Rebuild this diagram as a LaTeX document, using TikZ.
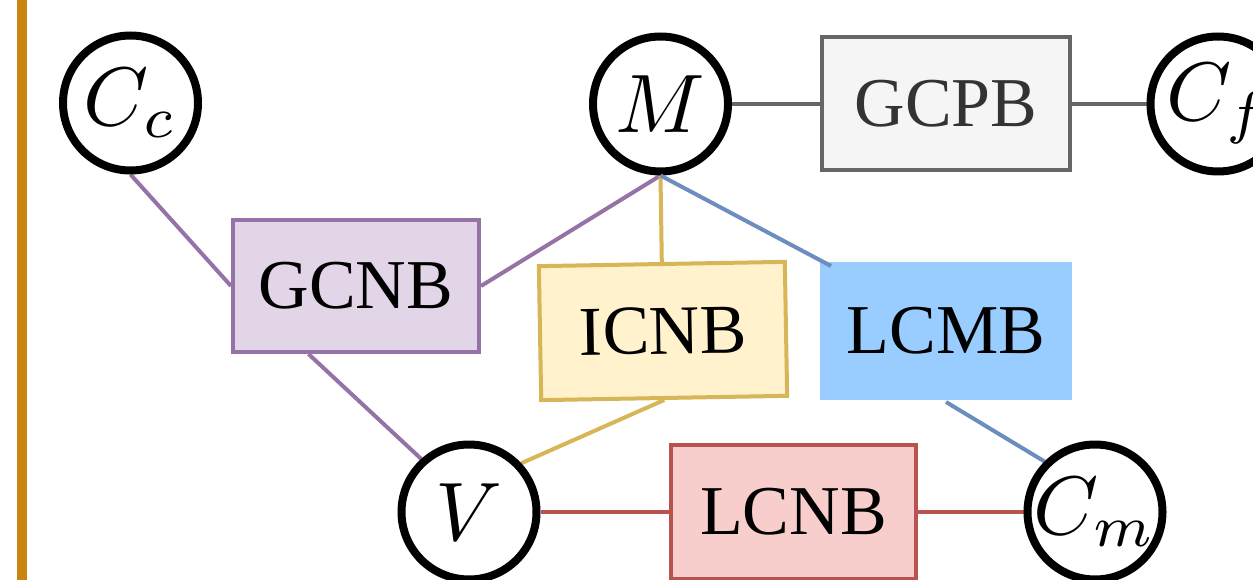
\documentclass[tikz,border=0pt]{standalone}
\usepackage{graphicx}
\usepackage{fontspec}
\setmainfont{Liberation Serif}
\usetikzlibrary{calc,backgrounds}
\definecolor{barcol}{RGB}{200,134,16}
\definecolor{purpline}{HTML}{9673A6}
\definecolor{purpfill}{HTML}{E1D5E7}
\definecolor{yelline}{HTML}{D6B656}
\definecolor{yelfill}{HTML}{FFF2CC}
\definecolor{blueline}{HTML}{6C8EBF}
\definecolor{bluefill}{HTML}{99CCFF}
\definecolor{redline}{HTML}{B85450}
\definecolor{redfill}{HTML}{F8CECC}
\definecolor{grayline}{HTML}{666666}
\definecolor{grayfill}{HTML}{F5F5F5}
\definecolor{graytext}{HTML}{333333}
\newcommand{\bigmath}[1]{\makebox[0pt]{\scalebox{8.3}{\normalsize$#1$}}}
\begin{document}
\begin{tikzpicture}[x=1pt,y=-1pt,
  circ/.style={circle,draw=black,line width=8pt,fill=white,minimum size=135pt,inner sep=0pt},
  blk/.style={rectangle,line width=4pt,inner sep=0pt,font=\fontsize{70}{80}\selectfont},
  ln/.style={line width=4pt}]
\useasboundingbox (0,0) rectangle (1253,580);
\clip (0,0) rectangle (1253,580);
\fill[barcol] (17,0) rectangle (27,580);
% circles
\node[circ] (Cc) at (130.5,103) {\bigmath{C_c}};
\node[circ] (M) at (660.5,104) {\bigmath{M}};
\node[circ] (Cf) at (1218,104) {\bigmath{C_f}};
\node[circ] (V) at (469,512) {\bigmath{V}};
\node[circ] (Cm) at (1095,512) {\bigmath{C_m}};
% blocks
\node[blk,draw=grayline,fill=grayfill,text=graytext,minimum width=248pt,minimum height=133pt] (GCPB) at (946,104) {GCPB};
\node[blk,draw=purpline,fill=purpfill,minimum width=246pt,minimum height=132pt] (GCNB) at (356,286) {GCNB};
\node[blk,draw=yelline,fill=yelfill,minimum width=246pt,minimum height=134pt,rotate=1] (ICNB) at (663,331) {ICNB};
\node[blk,fill=bluefill,minimum width=252pt,minimum height=138pt] (LCMB) at (946,331) {LCMB};
\node[blk,draw=redline,fill=redfill,minimum width=245pt,minimum height=134pt] (LCNB) at (793.5,512) {LCNB};
% connectors
\begin{pgfonlayer}{background}
\draw[ln,purpline] (Cc.south) -- (GCNB.west);
\draw[ln,purpline] ($(GCNB.south west)!0.31!(GCNB.south east)$) -- (V.132);
\draw[ln,purpline] (GCNB.east) -- (M.south);
\draw[ln,yelline] (M.south) -- (ICNB.north);
\draw[ln,yelline] (ICNB.south) -- (V.43);
\draw[ln,blueline] (LCMB.south) -- (Cm.135);
\draw[ln,redline] (V.east) -- (LCNB.west);
\draw[ln,redline] (LCNB.east) -- (Cm.west);
\draw[ln,grayline] (M.east) -- (GCPB.west);
\draw[ln,grayline] (GCPB.east) -- (Cf.west);
\end{pgfonlayer}
\coordinate (LCMBend) at ($(LCMB.north west)+(13,6)$);
\draw[ln,blueline] (M.south) -- (LCMBend);
\end{tikzpicture}
\end{document}
